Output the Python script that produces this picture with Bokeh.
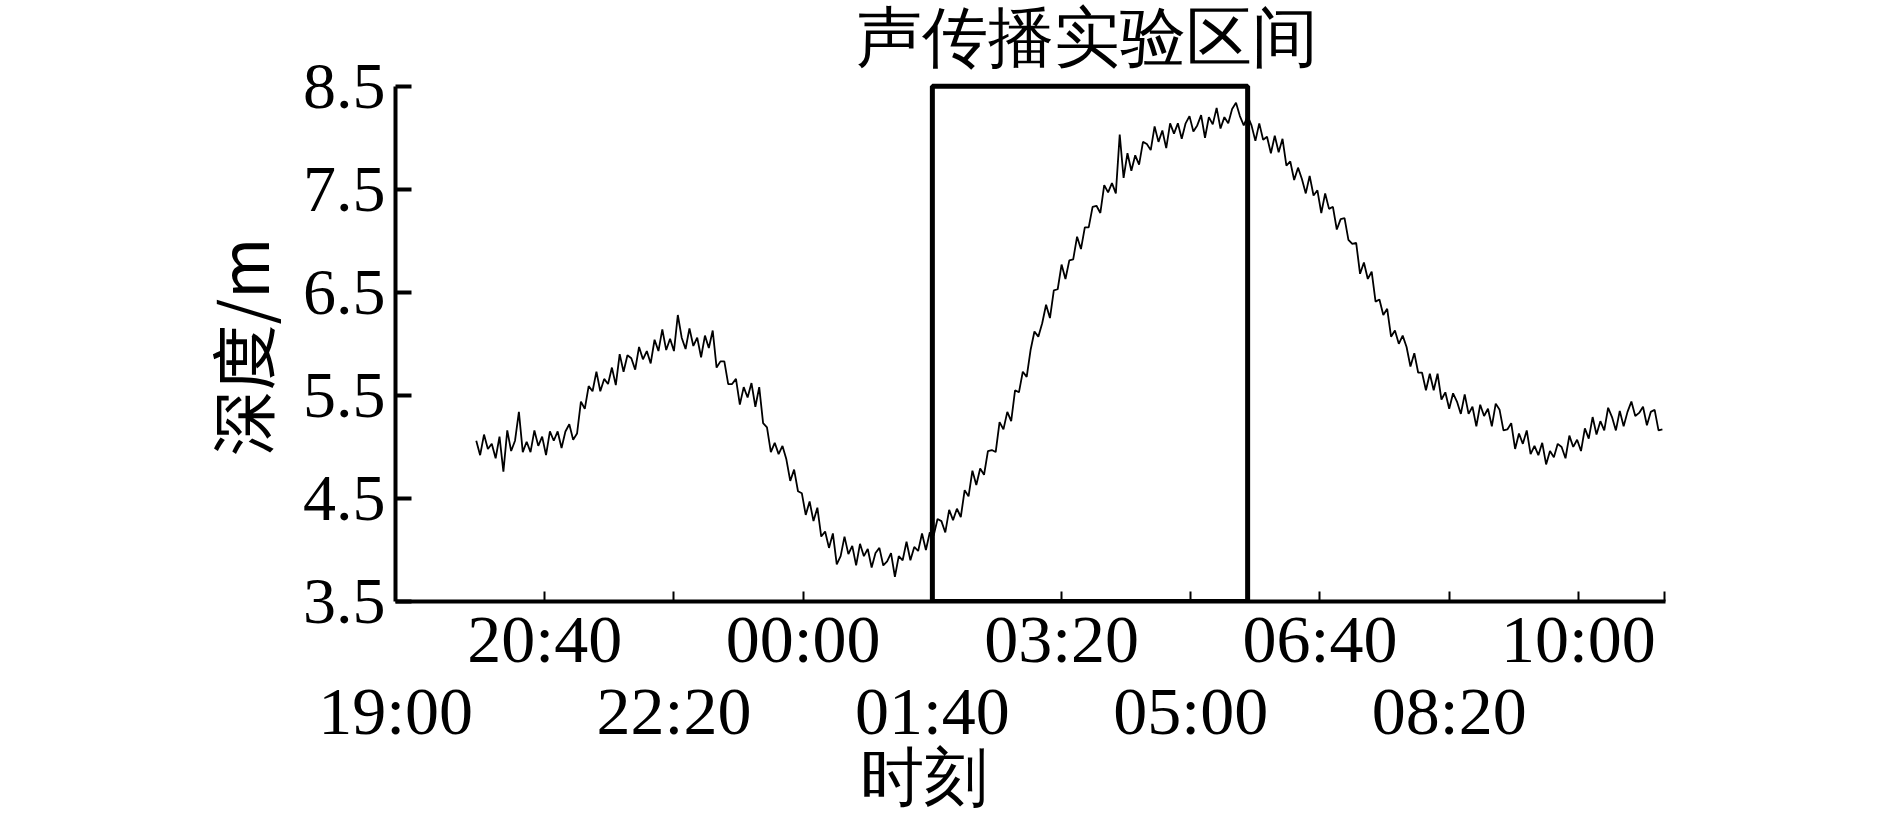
from bokeh.plotting import figure
from bokeh.models import LinearAxis, FixedTicker, Range1d, Label, Title
from bokeh.embed import file_html
from bokeh.resources import INLINE

# ---- data (time in minutes after 19:00, depth in m) ----
start_min = 47
step_min = 3
depth_m = [
    5.06, 4.92, 5.12, 4.98, 5.03, 4.89, 5.10, 4.76, 5.16, 4.96,
    5.06, 5.34, 4.95, 5.05, 4.95, 5.16, 5.01, 5.10, 4.92, 5.15,
    5.06, 5.15, 4.99, 5.15, 5.22, 5.07, 5.13, 5.44, 5.37, 5.59,
    5.54, 5.73, 5.54, 5.66, 5.61, 5.77, 5.60, 5.90, 5.73, 5.89,
    5.86, 5.75, 5.97, 5.85, 5.93, 5.81, 6.04, 5.93, 6.14, 5.94,
    6.05, 5.93, 6.28, 6.06, 5.95, 6.15, 5.98, 6.06, 5.87, 6.08,
    5.96, 6.13, 5.77, 5.83, 5.83, 5.61, 5.61, 5.66, 5.41, 5.58,
    5.48, 5.62, 5.39, 5.58, 5.23, 5.19, 4.95, 5.04, 4.93, 5.01,
    4.88, 4.67, 4.78, 4.57, 4.55, 4.34, 4.47, 4.28, 4.41, 4.13,
    4.18, 4.02, 4.16, 3.86, 3.94, 4.13, 3.96, 4.04, 3.85, 4.06,
    3.94, 4.01, 3.83, 3.97, 4.02, 3.85, 3.89, 3.97, 3.74, 3.94,
    3.90, 4.08, 3.90, 4.03, 3.99, 4.16, 4.00, 4.17, 4.14, 4.30,
    4.28, 4.17, 4.39, 4.29, 4.40, 4.32, 4.58, 4.52, 4.77, 4.63,
    4.79, 4.73, 4.96, 4.97, 4.95, 5.24, 5.17, 5.34, 5.25, 5.55,
    5.53, 5.73, 5.68, 5.94, 6.12, 6.07, 6.20, 6.38, 6.25, 6.52,
    6.53, 6.77, 6.63, 6.81, 6.82, 7.04, 6.92, 7.13, 7.13, 7.33,
    7.34, 7.27, 7.54, 7.47, 7.56, 7.46, 8.03, 7.61, 7.85, 7.68,
    7.83, 7.74, 7.96, 7.94, 7.88, 8.11, 7.96, 8.07, 7.90, 8.14,
    8.04, 8.14, 7.99, 8.14, 8.21, 8.06, 8.12, 8.22, 8.00, 8.20,
    8.13, 8.29, 8.09, 8.20, 8.14, 8.28, 8.34, 8.21, 8.12, 8.21,
    8.12, 7.97, 8.14, 7.98, 8.01, 7.85, 8.02, 7.86, 7.99, 7.73,
    7.77, 7.59, 7.71, 7.60, 7.46, 7.63, 7.44, 7.49, 7.27, 7.46,
    7.31, 7.33, 7.11, 7.21, 7.22, 7.01, 6.97, 6.98, 6.68, 6.79,
    6.63, 6.70, 6.41, 6.43, 6.28, 6.34, 6.07, 6.13, 6.00, 6.08,
    5.97, 5.78, 5.91, 5.72, 5.72, 5.55, 5.71, 5.55, 5.71, 5.46,
    5.53, 5.37, 5.52, 5.44, 5.32, 5.51, 5.32, 5.39, 5.20, 5.41,
    5.30, 5.37, 5.20, 5.42, 5.36, 5.16, 5.17, 5.23, 4.98, 5.13,
    5.03, 5.16, 4.93, 5.01, 4.92, 5.04, 4.83, 4.96, 4.90, 5.03,
    5.00, 4.89, 5.11, 5.00, 5.07, 4.96, 5.18, 5.08, 5.29, 5.12,
    5.25, 5.16, 5.38, 5.29, 5.16, 5.35, 5.20, 5.34, 5.44, 5.30,
    5.33, 5.39, 5.21, 5.34, 5.36, 5.16, 5.17,
]
time_min = [start_min + step_min * i for i in range(len(depth_m))]

x_start, x_end = -15.5, 967.4
upper_ticks = [100, 300, 500, 700, 900]
upper_labels = ["20:40", "00:00", "03:20", "06:40", "10:00"]
lower_ticks = [-15.4, 200, 400, 600, 800]
lower_labels = ["19:00", "22:20", "01:40", "05:00", "08:20"]
end_tick = 967.0
y_ticks = [3.5, 4.5, 5.5, 6.5, 7.5, 8.5]
y_axis_min, y_axis_max = 3.5, 8.5
box_start_min = 400   # 01:40
box_end_min = 644     # ~05:44

title_text = "声传播实验区间"
title_x, title_y = 519.3, 8.974
x_title = "时刻"
x_title_pos = 393.8
y_title = "深度/m"

SERIF = "Liberation Serif"
CJK = "Noto Sans CJK SC"

p = figure(width=1874, height=815, output_backend="svg", toolbar_location=None,
           title=None,
           x_range=Range1d(x_start, x_end), y_range=Range1d(3.5, 9.332),
           min_border_left=395, min_border_right=209,
           min_border_top=0, min_border_bottom=212)
p.outline_line_color = None
p.xgrid.visible = False
p.ygrid.visible = False
p.background_fill_color = "white"

p.line(time_min, depth_m, line_color="black", line_width=1.8)
p.quad(left=[box_start_min], right=[box_end_min], bottom=[y_axis_min], top=[y_axis_max],
       fill_color=None, line_color="black", line_width=5)

p.add_layout(Label(x=title_x, y=title_y, text=title_text, text_align="center",
                   text_baseline="middle", text_font=SERIF, text_font_size="66px",
                   text_color="black"))

# y axis
ya = p.yaxis[0]
ya.bounds = (y_axis_min, y_axis_max)
ya.ticker = FixedTicker(ticks=y_ticks, minor_ticks=[])
ya.axis_line_width = 4
ya.major_tick_in = 16
ya.major_tick_out = 0
ya.major_tick_line_width = 4
ya.minor_tick_line_color = None
ya.major_label_text_font = SERIF
ya.major_label_text_font_size = "66px"
ya.major_label_text_color = "black"
ya.major_label_standoff = 10

p.add_layout(Title(text=y_title, align="left", offset=145, vertical_align="bottom",
                   standoff=24, text_font=CJK, text_font_size="66px",
                   text_font_style="normal", text_color="black"), "left")

# x axis (upper row of labels)
xa = p.xaxis[0]
all_ticks = upper_ticks + lower_ticks[1:] + [end_tick]
xa.ticker = FixedTicker(ticks=sorted(all_ticks), minor_ticks=[])
ov = {t: "" for t in all_ticks}
ov.update({t: s for t, s in zip(upper_ticks, upper_labels)})
xa.major_label_overrides = ov
xa.axis_line_width = 4
xa.major_tick_in = 10
xa.major_tick_out = 0
xa.major_tick_line_width = 2
xa.minor_tick_line_color = None
xa.major_label_text_font = SERIF
xa.major_label_text_font_size = "68px"
xa.major_label_text_color = "black"
xa.major_label_standoff = -1

# second row of x labels
xa2 = LinearAxis(ticker=FixedTicker(ticks=lower_ticks, minor_ticks=[]),
                 major_label_overrides={t: s for t, s in zip(lower_ticks, lower_labels)},
                 axis_line_color=None, major_tick_line_color=None,
                 minor_tick_line_color=None,
                 major_label_text_font=SERIF, major_label_text_font_size="68px",
                 major_label_text_color="black", major_label_standoff=-13)
p.add_layout(xa2, "below")

# x-axis title, placed under the 01:40 label as in the original
xa3 = LinearAxis(ticker=FixedTicker(ticks=[x_title_pos], minor_ticks=[]),
                 major_label_overrides={x_title_pos: x_title},
                 axis_line_color=None, major_tick_line_color=None,
                 minor_tick_line_color=None,
                 major_label_text_font=SERIF, major_label_text_font_size="64px",
                 major_label_text_color="black", major_label_standoff=-16)
p.add_layout(xa3, "below")

open("out.html", "w").write(file_html(p, INLINE))
